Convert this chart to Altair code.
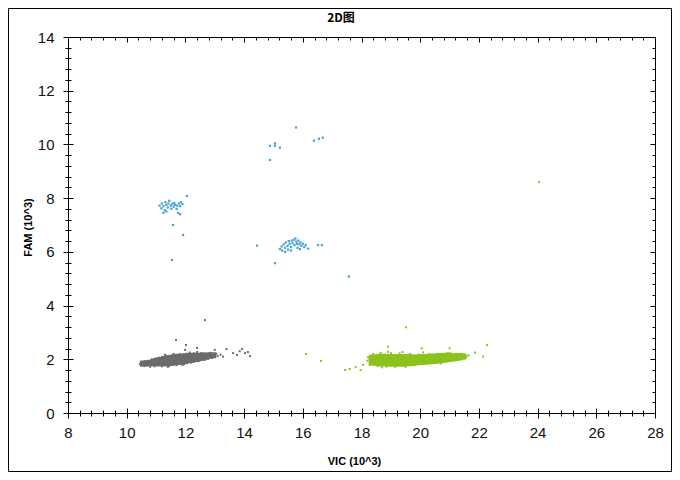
import altair as alt
import pandas as pd

# ---------------- data ----------------
chart_title = ["2D图"]

# gray cluster: dense core
gray_core_x = [10.55, 10.67, 10.79, 10.91, 10.91, 11.03, 11.03, 11.15, 11.15, 11.15,
               11.27, 11.27, 11.27, 11.39, 11.39, 11.39, 11.51, 11.51, 11.51,
               11.63, 11.63, 11.63, 11.75, 11.75, 11.75, 11.87, 11.87, 11.87,
               11.99, 11.99, 11.99, 12.11, 12.11, 12.11, 12.23, 12.23, 12.23,
               12.35, 12.35, 12.35, 12.47, 12.47, 12.59, 12.59, 12.71, 12.71, 12.83, 12.95]
gray_core_y = [1.84, 1.85, 1.87, 1.85, 1.92, 1.85, 1.95, 1.85, 1.92, 1.98,
               1.85, 1.93, 2.01, 1.86, 1.95, 2.04, 1.87, 1.96, 2.05,
               1.88, 1.98, 2.07, 1.90, 1.99, 2.09, 1.91, 2.01, 2.10,
               1.93, 2.02, 2.11, 1.96, 2.04, 2.12, 1.98, 2.06, 2.13,
               2.01, 2.07, 2.13, 2.04, 2.13, 2.06, 2.14, 2.09, 2.14, 2.13, 2.15]
# gray cluster: sparse edge droplets and outliers
gray_dot_x = [10.45, 10.50, 10.52, 10.62, 10.70, 10.85, 10.95, 11.05, 11.20, 11.22,
              11.35, 11.45, 11.55, 11.70, 11.80, 11.95, 12.05, 12.20, 12.30, 12.45,
              12.55, 12.65, 12.78, 12.90, 13.05, 13.10, 13.20, 13.28, 12.15, 11.60,
              11.10, 10.60, 11.40, 11.90, 12.40, 10.80, 11.30, 12.85,
              12.67, 11.68, 12.02, 11.99, 12.40, 13.00, 13.40, 13.62, 13.76, 13.93,
              14.03, 14.13, 14.20, 13.85]
gray_dot_y = [1.82, 1.78, 1.88, 1.92, 1.77, 1.96, 1.74, 2.03, 1.74, 2.08,
              2.12, 1.75, 2.15, 1.78, 2.19, 1.82, 2.21, 1.88, 2.22, 1.93,
              2.23, 1.98, 2.22, 2.05, 2.20, 2.12, 2.17, 2.10, 2.25, 2.20,
              1.98, 1.76, 1.72, 1.79, 2.27, 1.72, 2.17, 2.24,
              3.46, 2.72, 2.53, 2.35, 2.42, 2.35, 2.38, 2.23, 2.16, 2.38,
              2.23, 2.27, 2.12, 2.30]

# green cluster: dense core
green_core_x = [18.35, 18.35, 18.35, 18.47, 18.47, 18.47,
                18.59, 18.59, 18.59, 18.59, 18.71, 18.71, 18.71, 18.71,
                18.83, 18.83, 18.83, 18.83, 18.95, 18.95, 18.95, 18.95,
                19.07, 19.07, 19.07, 19.07, 19.19, 19.19, 19.19, 19.19,
                19.31, 19.31, 19.31, 19.31, 19.43, 19.43, 19.43, 19.43,
                19.55, 19.55, 19.55, 19.55, 19.67, 19.67, 19.67, 19.67,
                19.79, 19.79, 19.79, 19.91, 19.91, 19.91, 20.03, 20.03, 20.03,
                20.15, 20.15, 20.15, 20.27, 20.27, 20.27, 20.39, 20.39, 20.39,
                20.51, 20.51, 20.51, 20.63, 20.63, 20.63, 20.75, 20.75, 20.75,
                20.87, 20.87, 20.87, 20.99, 20.99, 20.99, 21.11, 21.11,
                21.23, 21.23, 21.35, 21.35, 21.47]
green_core_y = [1.88, 1.97, 2.06, 1.87, 1.97, 2.07,
                1.85, 1.93, 2.01, 2.09, 1.85, 1.93, 2.01, 2.09,
                1.85, 1.93, 2.01, 2.09, 1.84, 1.92, 2.00, 2.08,
                1.84, 1.92, 2.00, 2.08, 1.84, 1.92, 2.00, 2.08,
                1.84, 1.92, 2.00, 2.08, 1.84, 1.92, 2.00, 2.08,
                1.85, 1.93, 2.01, 2.08, 1.86, 1.94, 2.02, 2.08,
                1.88, 1.97, 2.06, 1.89, 1.98, 2.07, 1.90, 1.99, 2.08,
                1.91, 2.00, 2.08, 1.92, 2.01, 2.09, 1.93, 2.02, 2.10,
                1.94, 2.02, 2.10, 1.96, 2.04, 2.11, 1.97, 2.05, 2.12,
                1.99, 2.06, 2.13, 2.01, 2.08, 2.14, 2.03, 2.10,
                2.05, 2.12, 2.07, 2.12, 2.10]
# green cluster: sparse edge droplets and outliers
green_dot_x = [18.20, 18.22, 18.28, 18.40, 18.55, 18.65, 18.85, 19.00, 19.15, 19.30,
               19.50, 19.65, 19.80, 19.95, 20.10, 20.30, 20.45, 20.60, 20.80, 20.95,
               21.10, 21.25, 21.40, 21.50, 21.58, 21.65, 18.90, 20.10, 18.70, 19.40,
               20.70, 21.30,
               19.52, 18.90, 20.05, 21.00, 21.87, 22.14, 22.28, 17.44, 17.60, 17.80,
               17.97, 18.05, 16.11, 16.62, 24.05]
green_dot_y = [1.95, 2.08, 1.80, 2.20, 1.76, 2.24, 1.73, 2.23, 1.72, 2.22,
               1.72, 2.20, 1.78, 2.18, 1.82, 2.19, 1.86, 2.20, 1.90, 2.22,
               1.96, 2.20, 2.02, 2.18, 2.10, 2.15, 2.28, 2.26, 1.70, 2.27,
               1.84, 1.98,
               3.19, 2.47, 2.41, 2.41, 2.25, 2.10, 2.53, 1.60, 1.64, 1.71,
               1.60, 1.79, 2.20, 1.94, 8.60]

# blue droplets
blue_x = [11.12, 11.18, 11.20, 11.25, 11.30, 11.32, 11.35, 11.40, 11.42, 11.45,
          11.50, 11.52, 11.55, 11.60, 11.62, 11.65, 11.70, 11.72, 11.78, 11.82,
          11.85, 11.75, 11.35, 11.25, 11.90, 11.82,
          12.05, 11.58, 11.92, 11.54,
          15.22, 15.28, 15.30, 15.35, 15.40, 15.42, 15.48, 15.50, 15.52, 15.55,
          15.60, 15.62, 15.65, 15.70, 15.72, 15.75, 15.78, 15.80, 15.82, 15.85,
          15.88, 15.92, 15.95, 16.00, 16.05, 16.10, 16.18, 15.60, 15.40, 15.90,
          16.52, 16.65, 14.44, 15.05, 17.57,
          15.77, 14.88, 15.05, 15.05, 15.22, 14.88, 16.38, 16.55, 16.68]
blue_y = [7.72, 7.62, 7.80, 7.70, 7.55, 7.85, 7.75, 7.65, 7.80, 7.90,
          7.72, 7.60, 7.78, 7.68, 7.82, 7.75, 7.60, 7.72, 7.80, 7.70,
          7.85, 7.45, 7.50, 7.45, 7.78, 7.40,
          8.08, 7.00, 6.63, 5.70,
          6.10, 6.20, 6.05, 6.28, 6.15, 6.35, 6.22, 6.08, 6.40, 6.30,
          6.18, 6.42, 6.32, 6.45, 6.25, 6.50, 6.38, 6.30, 6.15, 6.42,
          6.28, 6.35, 6.22, 6.30, 6.18, 6.25, 6.12, 6.05, 6.00, 6.10,
          6.25, 6.25, 6.23, 5.58, 5.08,
          10.63, 9.95, 10.04, 9.95, 9.88, 9.42, 10.14, 10.21, 10.25]

# axis ticks
x_major = [8, 10, 12, 14, 16, 18, 20, 22, 24, 26, 28]
y_major = [0, 2, 4, 6, 8, 10, 12, 14]
x_minor = [8.0, 8.4, 8.8, 9.2, 9.6, 10.0, 10.4, 10.8, 11.2, 11.6, 12.0, 12.4, 12.8,
           13.2, 13.6, 14.0, 14.4, 14.8, 15.2, 15.6, 16.0, 16.4, 16.8, 17.2, 17.6,
           18.0, 18.4, 18.8, 19.2, 19.6, 20.0, 20.4, 20.8, 21.2, 21.6, 22.0, 22.4,
           22.8, 23.2, 23.6, 24.0, 24.4, 24.8, 25.2, 25.6, 26.0, 26.4, 26.8, 27.2,
           27.6, 28.0]
y_minor = [0.0, 0.4, 0.8, 1.2, 1.6, 2.0, 2.4, 2.8, 3.2, 3.6, 4.0, 4.4, 4.8, 5.2,
           5.6, 6.0, 6.4, 6.8, 7.2, 7.6, 8.0, 8.4, 8.8, 9.2, 9.6, 10.0, 10.4, 10.8,
           11.2, 11.6, 12.0, 12.4, 12.8, 13.2, 13.6, 14.0]

GRAY = "#6B6B6B"
GREEN = "#8CC21C"
BLUE = "#4AA3D4"
FONT = "Liberation Sans"

xs = alt.Scale(domain=[8, 28], nice=False, zero=False)
ys = alt.Scale(domain=[0, 14], nice=False, zero=False)


def df(x, y):
    return pd.DataFrame({"x": x, "y": y})


def ticks_axis(orient, values, offset, size):
    return alt.Axis(orient=orient, values=values, offset=offset, tickSize=size,
                    labels=False, domain=False, grid=False, tickColor="black",
                    tickWidth=1, title=None)


# layer 1: gray core with labelled axes
l1 = alt.Chart(df(gray_core_x, gray_core_y)).mark_square(
    size=36, color=GRAY, opacity=1).encode(
    x=alt.X("x:Q", scale=xs, axis=alt.Axis(
        orient="bottom", values=x_major, offset=-5, tickSize=10, domain=False,
        grid=False, tickColor="black", labelFont=FONT, labelFontSize=15,
        labelColor="#111111", labelPadding=7, labelFlush=False, labelOverlap=False,
        title="VIC (10^3)", titleFont=FONT, titleFontSize=11, titleFontWeight="bold",
        titleColor="black", titleX=286, titleY=53, titleAlign="center",
        titleBaseline="middle")),
    y=alt.Y("y:Q", scale=ys, axis=alt.Axis(
        orient="left", values=y_major, offset=-5, tickSize=10, domain=False,
        grid=False, tickColor="black", labelFont=FONT, labelFontSize=15,
        labelColor="#111111", labelPadding=9, labelFlush=False, labelOverlap=False,
        title="FAM (10^3)", titleFont=FONT, titleFontSize=11, titleFontWeight="bold",
        titleColor="black", titleX=-45, titleY=190, titleAngle=-90,
        titleAlign="center", titleBaseline="middle")),
)

# layer 2: gray droplets, minor ticks bottom/left
l2 = alt.Chart(df(gray_dot_x, gray_dot_y)).mark_square(
    size=4, color=GRAY, opacity=1).encode(
    x=alt.X("x:Q", scale=xs, axis=ticks_axis("bottom", x_minor, -3, 6)),
    y=alt.Y("y:Q", scale=ys, axis=ticks_axis("left", y_minor, -3, 6)),
)

# layer 3: green core, major ticks top/right
l3 = alt.Chart(df(green_core_x, green_core_y)).mark_square(
    size=36, color=GREEN, opacity=1).encode(
    x=alt.X("x:Q", scale=xs, axis=ticks_axis("top", x_major, -5, 5)),
    y=alt.Y("y:Q", scale=ys, axis=ticks_axis("right", y_major, -5, 5)),
)

# layer 4: green droplets, minor ticks top/right
l4 = alt.Chart(df(green_dot_x, green_dot_y)).mark_square(
    size=4, color=GREEN, opacity=1).encode(
    x=alt.X("x:Q", scale=xs, axis=ticks_axis("top", x_minor, -3, 3)),
    y=alt.Y("y:Q", scale=ys, axis=ticks_axis("right", y_minor, -3, 3)),
)

# layer 5: blue droplets
l5 = alt.Chart(df(blue_x, blue_y)).mark_square(
    size=5, color=BLUE, opacity=1).encode(
    x=alt.X("x:Q", scale=xs, axis=None),
    y=alt.Y("y:Q", scale=ys, axis=None),
)

# outer frame
frame = alt.Chart(alt.Data(values=[{}])).mark_rect(
    filled=False, stroke="black", strokeWidth=1).encode(
    x=alt.value(-59.5), x2=alt.value(603.5),
    y=alt.value(-28.5), y2=alt.value(434.5),
)

# chart title as text
title = alt.Chart(pd.DataFrame({"t": chart_title})).mark_text(
    font="Noto Sans CJK SC", fontSize=12, fontWeight="bold", color="black",
    align="center", baseline="middle").encode(
    text="t:N", x=alt.value(273), y=alt.value(-19),
)

chart = alt.layer(l1, l2, l3, l4, l5, frame, title).resolve_axis(
    x="independent", y="independent"
).properties(
    width=587, height=376,
    padding={"left": 60, "top": 29, "right": 17, "bottom": 59},
    autosize=alt.AutoSizeParams(type="none"),
    background="white",
).configure_view(stroke="black", strokeWidth=1)

chart.save("out.html", embed_options={"renderer": "svg", "actions": False})
